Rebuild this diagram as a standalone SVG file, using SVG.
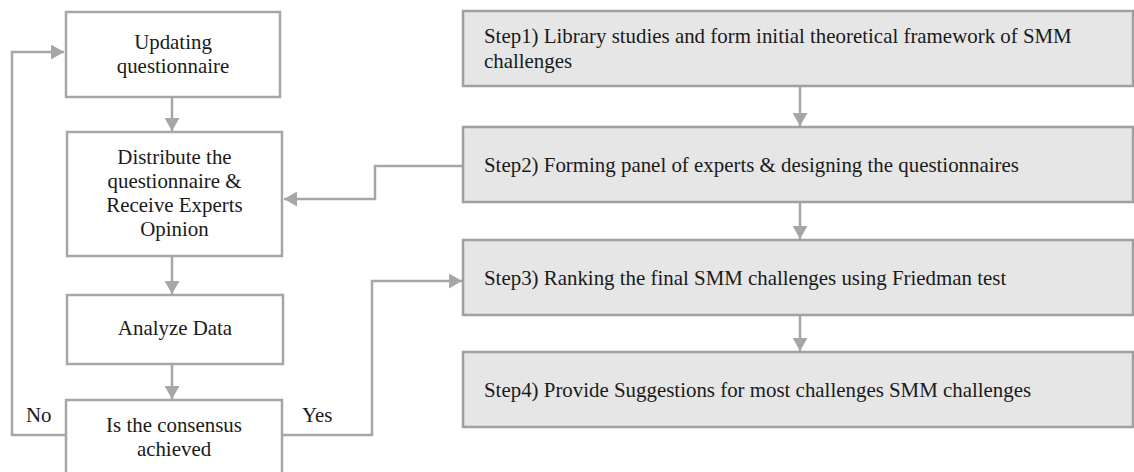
<svg xmlns="http://www.w3.org/2000/svg" width="1134" height="472" viewBox="0 0 1134 472" font-family="'Liberation Serif', 'DejaVu Serif', serif">
<style>
  .lbox { fill: #ffffff; stroke: #a6a6a6; stroke-width: 2.5; }
  .sbox { fill: #e6e6e6; stroke: #a0a0a0; stroke-width: 2.5; }
  text { font-family: 'Liberation Serif', 'DejaVu Serif', serif; font-size: 20.9px; fill: #1a1a1a; }
  .c { text-anchor: middle; }
  .conn { fill: none; stroke: #a6a6a6; stroke-width: 2.5; }
</style>
<defs>
  <marker id="ah" markerUnits="userSpaceOnUse" markerWidth="13" markerHeight="15" refX="13" refY="7.5" orient="auto">
    <path d="M0,0 L13,7.5 L0,15 z" fill="#a6a6a6"/>
  </marker>
</defs>
<rect width="1134" height="472" fill="#ffffff"/>
<g id="connectors">
  <path class="conn" d="M172,97 V131" marker-end="url(#ah)"/>
  <path class="conn" d="M172,256 V294" marker-end="url(#ah)"/>
  <path class="conn" d="M172,364 V399" marker-end="url(#ah)"/>
  <path class="conn" d="M66,435 H12 V52 H64" marker-end="url(#ah)"/>
  <path class="conn" d="M282,435 H372 V281 H462" marker-end="url(#ah)"/>
  <path class="conn" d="M463,166 H375 V199 H284" marker-end="url(#ah)"/>
  <path class="conn" d="M800,86 V126" marker-end="url(#ah)"/>
  <path class="conn" d="M800,202 V239" marker-end="url(#ah)"/>
  <path class="conn" d="M800,315 V351" marker-end="url(#ah)"/>
</g>
<g id="updating">
  <rect class="lbox" x="66" y="12" width="214" height="85"/>
  <text class="c" x="173" y="49">Updating</text>
  <text class="c" x="173" y="73">questionnaire</text>
</g>
<g id="distribute">
  <rect class="lbox" x="67" y="132" width="215" height="124"/>
  <text class="c" x="174.5" y="164">Distribute the</text>
  <text class="c" x="174.5" y="188">questionnaire &amp;</text>
  <text class="c" x="174.5" y="212">Receive Experts</text>
  <text class="c" x="174.5" y="236">Opinion</text>
</g>
<g id="analyze">
  <rect class="lbox" x="67" y="295" width="216" height="69"/>
  <text class="c" x="175" y="335">Analyze Data</text>
</g>
<g id="consensus">
  <rect class="lbox" x="66" y="400" width="216" height="90"/>
  <text class="c" x="174" y="432">Is the consensus</text>
  <text class="c" x="174" y="456">achieved</text>
</g>
<g id="labels">
  <text x="26" y="422">No</text>
  <text x="302" y="422">Yes</text>
</g>
<g id="step1">
  <rect class="sbox" x="463" y="11" width="670" height="75"/>
  <text x="484" y="43">Step1) Library studies and form initial theoretical framework of SMM</text>
  <text x="484" y="68">challenges</text>
</g>
<g id="step2">
  <rect class="sbox" x="463" y="127" width="670" height="75"/>
  <text x="484" y="172">Step2) Forming panel of experts &amp; designing the questionnaires</text>
</g>
<g id="step3">
  <rect class="sbox" x="463" y="240" width="670" height="75"/>
  <text x="484" y="285">Step3) Ranking the final SMM challenges using Friedman test</text>
</g>
<g id="step4">
  <rect class="sbox" x="463" y="352" width="670" height="75"/>
  <text x="484" y="397">Step4) Provide Suggestions for most challenges SMM challenges</text>
</g>
</svg>
